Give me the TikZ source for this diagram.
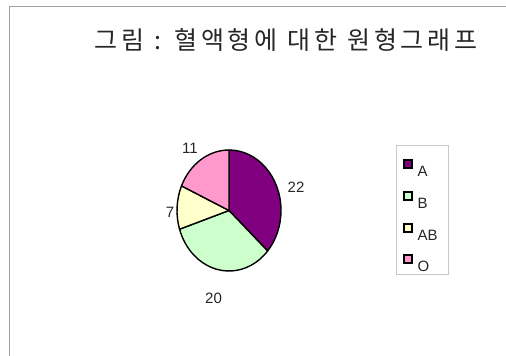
\documentclass[tikz,border=0pt]{standalone}
\usepackage{fontspec}
\setmainfont{Liberation Sans}
\newfontfamily\krfont{Noto Sans CJK KR}[LetterSpace=15]
\newcommand\widespaces{\spaceskip=10pt plus 0pt minus 0pt\relax}
\definecolor{sliceA}{HTML}{800080}
\definecolor{sliceB}{HTML}{CCFFCC}
\definecolor{sliceAB}{HTML}{FFFFCC}
\definecolor{sliceO}{HTML}{FF99CC}
\definecolor{framegray}{HTML}{A0A0A0}
\definecolor{legendgray}{HTML}{C8C8C8}
\tikzset{
  numlabel/.style={font=\fontsize{15}{15}\selectfont, text=black!85, inner sep=0pt, anchor=center},
  slicestyle/.style={draw=black, line width=1.4pt, line join=round},
  legsq/.style={draw=black, line width=1.3pt, minimum size=8pt, inner sep=0pt},
  legtext/.style={font=\fontsize{15}{15}\selectfont, text=black!85, inner sep=0pt, anchor=west}
}
\begin{document}
\begin{tikzpicture}[x=1pt,y=1pt]
\useasboundingbox (0,-356) rectangle (506,0);
% frame
\draw[framegray, line width=1pt] (9,-356) -- (9,-6) -- (506,-6);
% title
\node[font=\krfont\fontsize{25}{25}\selectfont, text=black!85, inner sep=0pt] (title) at (286,-40) {\widespaces 그림 : 혈액형에 대한 원형그래프};
% pie
\coordinate (pc) at (229,-210.5);
\begin{scope}[shift={(pc)}, yscale=60.5/52]
  \filldraw[slicestyle, fill=sliceA] (0,0) -- (90:52) arc[start angle=90, end angle=-42, radius=52] -- cycle;
  \filldraw[slicestyle, fill=sliceB] (0,0) -- (-42:52) arc[start angle=-42, end angle=-162, radius=52] -- cycle;
  \filldraw[slicestyle, fill=sliceAB] (0,0) -- (-162:52) arc[start angle=-162, end angle=-204, radius=52] -- cycle;
  \filldraw[slicestyle, fill=sliceO] (0,0) -- (-204:52) arc[start angle=-204, end angle=-270, radius=52] -- cycle;
\end{scope}
% value labels
\node[numlabel] (lA) at (296,-187.5) {22};
\node[numlabel] (lB) at (213.5,-298.5) {20};
\node[numlabel] (lAB) at (170,-212.5) {7};
\node[numlabel] (lO) at (190,-148) {11};
% legend
\draw[legendgray, line width=0.8pt] (396,-145) rectangle (448,-274);
\node[legsq, fill=sliceA] (sqA) at (408,-164) {};
\node[legsq, fill=sliceB] (sqB) at (408,-196) {};
\node[legsq, fill=sliceAB] (sqAB) at (408,-228) {};
\node[legsq, fill=sliceO] (sqO) at (408,-259) {};
\node[legtext] (tA) at (417.5,-171) {A};
\node[legtext] (tB) at (417.5,-203) {B};
\node[legtext] (tAB) at (417.5,-235) {AB};
\node[legtext] (tO) at (417.5,-266) {O};
\end{tikzpicture}
\end{document}
